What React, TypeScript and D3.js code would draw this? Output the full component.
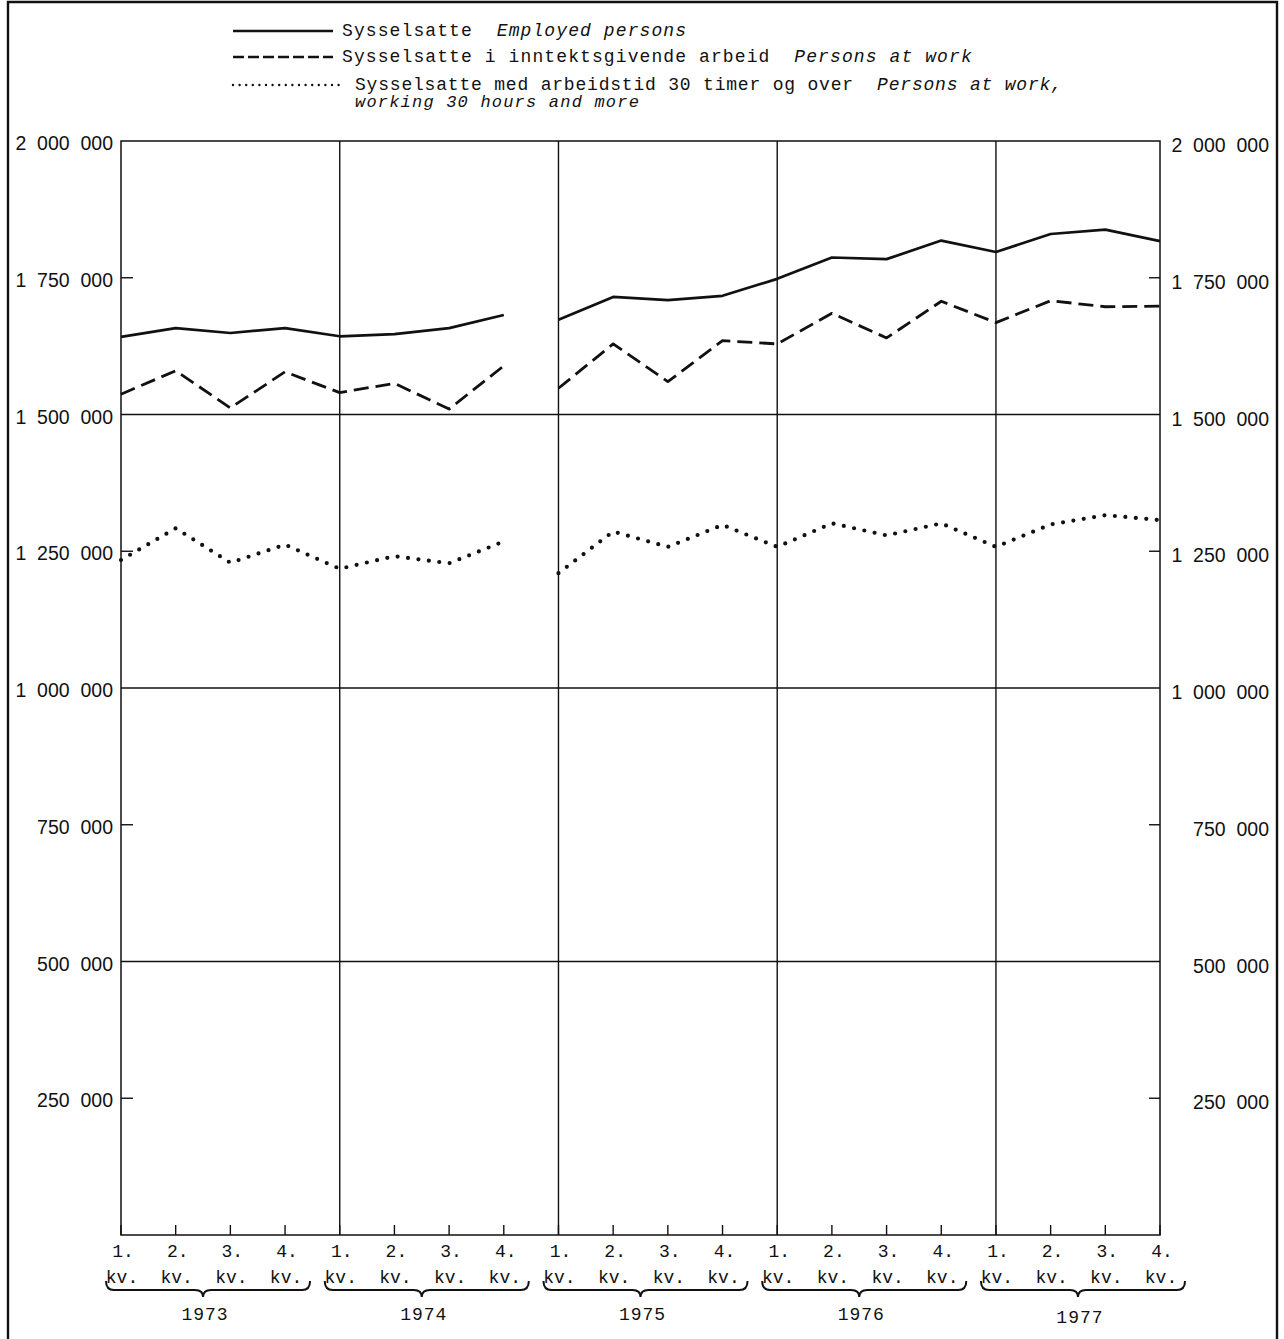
import React from "react";
import * as d3 from "d3";

const years = ["1973", "1974", "1975", "1976", "1977"];
const quarterNums = ["1.", "2.", "3.", "4."];
const quarterSuffix = "kv.";

const employed = [
  1642000, 1658000, 1649000, 1658000,
  1643000, 1647000, 1658000, 1682000,
  1673000, 1715000, 1709000, 1717000,
  1748000, 1787000, 1784000, 1818000,
  1797000, 1830000, 1838000, 1817000,
];
const atWork = [
  1537000, 1580000, 1512000, 1578000,
  1540000, 1557000, 1510000, 1589000,
  1548000, 1629000, 1560000, 1635000,
  1629000, 1685000, 1640000, 1707000,
  1668000, 1708000, 1697000, 1698000,
];
const atWork30 = [
  1234000, 1292000, 1229000, 1262000,
  1218000, 1241000, 1228000, 1268000,
  1210000, 1286000, 1258000, 1298000,
  1258000, 1301000, 1279000, 1301000,
  1258000, 1299000, 1316000, 1307000,
];
// series break between these indices (1974 Q4 -> 1975 Q1)
const breakAfter = 7;

const yTicks = [250000, 500000, 750000, 1000000, 1250000, 1500000, 1750000, 2000000];
const yGridFull = [500000, 1000000, 1500000];

const legendItems = [
  { no: "Sysselsatte", en: "Employed persons", style: "solid" },
  { no: "Sysselsatte i inntektsgivende arbeid", en: "Persons at work", style: "dashed" },
  { no: "Sysselsatte med arbeidstid 30 timer og over", en: "Persons at work,", style: "dotted" },
];
const legendExtra = "working 30 hours and more";

const fmt = (v: number) => d3.format(",")(v).replace(/,/g, "\u2007");

const INK = "#111";
const MONO = "'Liberation Mono', 'DejaVu Sans Mono', monospace";
const SANS = "'Liberation Sans', Arial, sans-serif";

export default function App() {
  const W = 1284;
  const H = 1339;
  const left = 121;
  const right = 1160;
  const top = 141;
  const bottom = 1235;
  const n = employed.length;

  const x = d3.scaleLinear().domain([0, n - 1]).range([left, right]);
  const y = d3.scaleLinear().domain([0, 2000000]).range([bottom, top]);

  const segPath = (vals: number[]) => {
    const a = vals.slice(0, breakAfter + 1);
    const b = vals.slice(breakAfter + 1);
    const la = d3.line<number>().x((_, i) => x(i)).y((d) => y(d));
    const lb = d3
      .line<number>()
      .x((_, i) => x(i + breakAfter + 1))
      .y((d) => y(d));
    return (la(a) || "") + (lb(b) || "");
  };

  const seriesStyles: Record<string, any> = {
    solid: { strokeWidth: 2.7 },
    dashed: { strokeWidth: 2.8, strokeDasharray: "15 7" },
    dotted: { strokeWidth: 4.2, strokeDasharray: "0 10.5", strokeLinecap: "round" },
  };
  const legendStyles: Record<string, any> = {
    solid: { strokeWidth: 2.4 },
    dashed: { strokeWidth: 2.6, strokeDasharray: "11 4" },
    dotted: { strokeWidth: 2.4, strokeDasharray: "0 6.6", strokeLinecap: "round" },
  };
  const legendLayout = [
    { y: 31, x2: 333, tx: 342, ls: 1.1 },
    { y: 57, x2: 333, tx: 342, ls: 1.1 },
    { y: 85, x2: 340, tx: 355, ls: 0.8 },
  ];

  const series = [
    { vals: employed, style: "solid" },
    { vals: atWork, style: "dashed" },
    { vals: atWork30, style: "dotted" },
  ];

  const yearIdx = years.map((_, i) => i * 4);

  const bracePath = (x0: number, x1: number, xm: number, yTop: number) => {
    const yb = yTop + 9;
    const yp = yTop + 16;
    return [
      `M${x0},${yTop}`,
      `Q${x0},${yb} ${x0 + 8},${yb}`,
      `L${xm - 8},${yb}`,
      `Q${xm},${yb} ${xm},${yp}`,
      `Q${xm},${yb} ${xm + 8},${yb}`,
      `L${x1 - 8},${yb}`,
      `Q${x1},${yb} ${x1},${yTop}`,
    ].join(" ");
  };

  return (
    <div style={{ position: "absolute", left: 0, top: 0, width: W, height: H, background: "#fff" }}>
      <svg width={W} height={H} viewBox={`0 0 ${W} ${H}`} style={{ display: "block" }}>
        <rect x={0} y={0} width={W} height={H} fill="#fff" />
        {/* outer frame */}
        <path d={`M8,${H} L8,2 L1277,2 L1277,${H}`} fill="none" stroke={INK} strokeWidth={2.4} />

        {/* legend */}
        {legendItems.map((it, i) => {
          const L = legendLayout[i];
          return (
            <g key={it.no}>
              <line x1={233} x2={L.x2} y1={L.y} y2={L.y} stroke={INK} {...legendStyles[it.style]} />
              <text
                x={L.tx}
                y={L.y + 5}
                fontFamily={MONO}
                fontSize={18}
                letterSpacing={L.ls}
                fill={INK}
                xmlSpace="preserve"
                style={{ whiteSpace: "pre" }}
              >
                {it.no + "  "}
                <tspan fontStyle="italic">{it.en}</tspan>
              </text>
            </g>
          );
        })}
        <text
          x={355}
          y={107}
          fontFamily={MONO}
          fontSize={17}
          letterSpacing={1.2}
          fontStyle="italic"
          fill={INK}
        >
          {legendExtra}
        </text>

        {/* horizontal full gridlines */}
        {yGridFull.map((v) => (
          <line key={v} x1={left} x2={right} y1={y(v)} y2={y(v)} stroke={INK} strokeWidth={1.4} />
        ))}
        {/* short ticks */}
        {yTicks
          .filter((v) => !yGridFull.includes(v) && v !== 2000000)
          .map((v) => (
            <g key={v}>
              <line x1={left} x2={left + 12} y1={y(v)} y2={y(v)} stroke={INK} strokeWidth={1.4} />
              <line x1={right - 11} x2={right} y1={y(v)} y2={y(v)} stroke={INK} strokeWidth={1.4} />
            </g>
          ))}
        {/* vertical year separators */}
        {yearIdx.slice(1).map((i) => (
          <line key={i} x1={x(i)} x2={x(i)} y1={top} y2={bottom} stroke={INK} strokeWidth={1.4} />
        ))}
        {/* plot frame */}
        <rect
          x={left}
          y={top}
          width={right - left}
          height={bottom - top}
          fill="none"
          stroke={INK}
          strokeWidth={1.5}
        />
        {/* bottom quarter ticks */}
        {d3.range(n).map((i) => (
          <line key={i} x1={x(i)} x2={x(i)} y1={bottom - 10} y2={bottom} stroke={INK} strokeWidth={1.4} />
        ))}

        {/* y labels */}
        {yTicks.map((v) => (
          <g key={v}>
            <text
              x={113}
              y={y(v) + 2}
              textAnchor="end"
              dominantBaseline="central"
              fontFamily={SANS}
              fontSize={19.5}
              fill={INK}
            >
              {fmt(v)}
            </text>
            <text
              x={1269}
              y={y(v) + 4}
              textAnchor="end"
              dominantBaseline="central"
              fontFamily={SANS}
              fontSize={19.5}
              fill={INK}
            >
              {fmt(v)}
            </text>
          </g>
        ))}

        {/* series */}
        {series.map((s) => (
          <path
            key={s.style}
            d={segPath(s.vals)}
            fill="none"
            stroke={INK}
            strokeLinejoin="round"
            {...seriesStyles[s.style]}
          />
        ))}

        {/* x labels */}
        {d3.range(n).map((i) => (
          <g key={i}>
            <text
              x={x(i) + 2}
              y={1257}
              textAnchor="middle"
              fontFamily={MONO}
              fontSize={18}
              fill={INK}
            >
              {quarterNums[i % 4]}
            </text>
            <text
              x={x(i) + 1}
              y={1283}
              textAnchor="middle"
              fontFamily={MONO}
              fontSize={18}
              fill={INK}
            >
              {quarterSuffix}
            </text>
          </g>
        ))}

        {/* braces and years */}
        {years.map((yr, k) => {
          const i0 = k * 4;
          const i3 = k * 4 + 3;
          const x0 = x(i0) - 15;
          const x1 = x(i3) + 25;
          const xm = (x(i0) + x(i3)) / 2;
          return (
            <g key={yr}>
              <path d={bracePath(x0, x1, xm, 1281)} fill="none" stroke={INK} strokeWidth={2} />
              <text
                x={xm + 2}
                y={k === years.length - 1 ? 1323 : 1320}
                textAnchor="middle"
                fontFamily={MONO}
                fontSize={18}
                letterSpacing={1}
                fill={INK}
              >
                {yr}
              </text>
            </g>
          );
        })}
      </svg>
    </div>
  );
}
